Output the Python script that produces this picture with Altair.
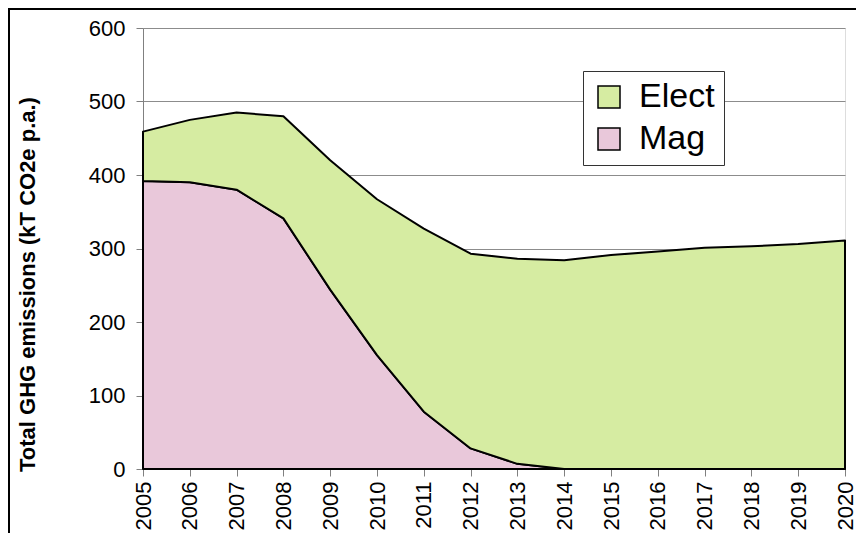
import altair as alt
import pandas as pd

years = list(range(2005, 2021))
mag = [392, 390, 380, 341, 244, 155, 78, 28, 7, 0, 0, 0, 0, 0, 0, 0]
total = [459, 475, 485, 480, 420, 367, 327, 293, 286, 284, 291, 296, 301, 303, 306, 311]
elect = [t - m for t, m in zip(total, mag)]
series = ["Elect", "Mag"]
colors = ["#d6eca2", "#e9c8da"]
y_ticks = [0, 100, 200, 300, 400, 500, 600]

rows = []
for i, yr in enumerate(years):
    rows.append({"year": yr, "series": "Mag", "value": mag[i], "ord": 0})
    rows.append({"year": yr, "series": "Elect", "value": elect[i], "ord": 1})
df = pd.DataFrame(rows)

FONT = "Liberation Sans"

area = alt.Chart(df).mark_area(stroke="black", strokeWidth=2, strokeJoin="round").encode(
    x=alt.X("year:Q", scale=alt.Scale(domain=[2005, 2020], nice=False, zero=False),
            axis=alt.Axis(values=years, format="d", title=None, grid=False,
                          labelAngle=270, labelFontSize=22, labelPadding=5,
                          tickSize=7, tickColor="#808080", domainColor="#808080",
                          labelColor="black", labelFont=FONT)),
    y=alt.Y("value:Q", stack="zero",
            scale=alt.Scale(domain=[0, 600], nice=False),
            axis=alt.Axis(values=y_ticks, title="Total GHG emissions (kT CO2e p.a.)",
                          grid=True, gridColor="#8c8c8c", gridWidth=1.2,
                          tickSize=7, tickColor="#808080", domainColor="#808080",
                          labelFontSize=22, labelPadding=11, labelColor="black",
                          labelFont=FONT,
                          titleFont=FONT, titleFontSize=22, titleFontWeight="bold",
                          titleAngle=270, titleX=-116, titleY=256, titleAlign="center",
                          titleBaseline="middle", titleColor="black")),
    color=alt.Color("series:N", scale=alt.Scale(domain=series, range=colors),
                    legend=alt.Legend(title=None, orient="none", legendX=440, legendY=43,
                                      labelFontSize=34, labelFont=FONT, labelColor="black",
                                      symbolType="square", symbolSize=484,
                                      symbolStrokeColor="black", symbolStrokeWidth=1.5,
                                      symbolOpacity=1,
                                      labelOffset=13, rowPadding=8, padding=9,
                                      fillColor="white", strokeColor="#333333")),
    order=alt.Order("ord:Q"),
)

frame = alt.Chart(pd.DataFrame({"a": [0]})).mark_rect(
    fill=None, stroke="black", strokeWidth=2
).encode(
    x=alt.value(-134), x2=alt.value(760), y=alt.value(-19), y2=alt.value(560)
)

chart = alt.layer(area, frame).properties(
    width=702, height=441,
    autosize=alt.AutoSizeParams(type="none"),
    padding={"left": 135, "top": 20, "right": 11, "bottom": 64},
).configure_view(stroke=None).configure(font=FONT)

chart.save("out.html", embed_options={"renderer": "svg", "actions": False})
